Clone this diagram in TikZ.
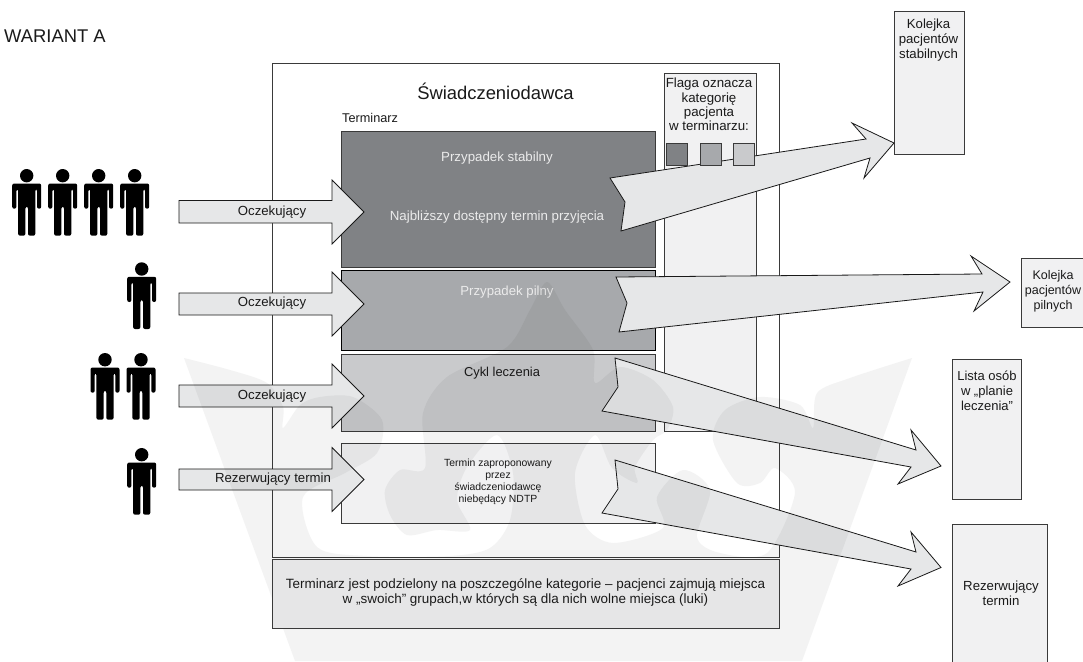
\documentclass[tikz,border=0pt]{standalone}
\usepackage{fontspec}
\setmainfont{Liberation Sans}
\definecolor{edge}{HTML}{3A3A3A}
\definecolor{arrowfill}{HTML}{E6E7E8}
\definecolor{panel}{HTML}{F1F1F2}
\definecolor{rowa}{HTML}{808285}
\definecolor{rowb}{HTML}{A7A9AC}
\definecolor{rowc}{HTML}{C9CACC}
\definecolor{notefill}{HTML}{E6E6E7}
\definecolor{wmark}{HTML}{F3F3F3}
\definecolor{ink}{HTML}{1A1A1A}
\tikzset{
  rect/.style={draw=edge,line width=0.9pt,inner sep=0pt,anchor=north west},
  lbl/.style={inner sep=0pt,align=center,text=ink},
  whitelbl/.style={inner sep=0pt,align=center,text=white!92!black},
  blockarrow/.style={draw=black!90,line width=0.8pt,fill=arrowfill,line join=miter},
  person/.pic={
    \fill[black] (0,0) circle (6.7);
    \fill[black,rounded corners=2pt] (-14.5,33) -- (-14.5,7.8) -- (14.5,7.8) -- (14.5,33) -- (10.3,33) -- (10.3,13.5) -- (8.6,13.5) -- (8.6,60) -- (1.3,60) -- (1.3,31) -- (-1.3,31) -- (-1.3,60) -- (-8.6,60) -- (-8.6,13.5) -- (-10.3,13.5) -- (-10.3,33) -- cycle;
  }
}
\newcommand{\boxat}[7]{\node[rect,fill=#6,minimum width=#4pt,minimum height=#5pt,#7] (#1) at (#2,#3) {};}
\begin{document}
\begin{tikzpicture}[x=1pt,y=-1pt]
\useasboundingbox (0,0) rectangle (1083,661);
\clip (0,0) rectangle (1083,661);
\fill[white] (0,0) rectangle (1083,661);

% main frames
\boxat{provider}{272}{63}{507}{494}{white}{}
\boxat{flagcol}{663.5}{73}{92.5}{358}{panel}{}

% rows
\boxat{rowstable}{341}{131}{314}{136}{rowa}{}
\boxat{rowurgent}{341}{269.5}{314}{80.5}{rowb}{draw=black}
\boxat{rowcycle}{341}{354}{314}{77}{rowc}{}
\boxat{rowbook}{341}{442.5}{314}{80}{panel}{}

% outgoing queues
\boxat{qstable}{894}{11}{70}{143}{panel}{}
\boxat{qurgent}{1021}{258}{80}{69}{panel}{}
\boxat{qplan}{952}{359}{69}{140}{panel}{}
\boxat{qbook}{952}{524}{95}{150}{panel}{}

% outgoing block arrows
\draw[blockarrow] (610,178) -- (866,139) -- (852,123) -- (894,143) -- (864,178) -- (870,158) -- (621,231) -- (625,202) -- cycle;
\draw[blockarrow] (616,277) -- (982,274) -- (971,256) -- (1010,282) -- (974,311) -- (983,292) -- (619,332) -- (627,303) -- cycle;
\draw[blockarrow] (615,358) -- (916,450) -- (911,430) -- (941,466) -- (898,484) -- (911,467) -- (602,411) -- (618,387) -- cycle;
\draw[blockarrow] (615,460) -- (916,552) -- (911,532) -- (941,567.5) -- (898,586) -- (911,569) -- (602,513) -- (618,489) -- cycle;

% flags
\boxat{flaga}{666}{143}{21}{22}{rowa}{}
\boxat{flagb}{699.5}{143}{21}{22}{rowb}{}
\boxat{flagc}{733}{143}{21}{22}{rowc}{}

% incoming block arrows
\draw[blockarrow] (179,200.5) -- (332,200.5) -- (332,180) -- (364,212) -- (332,244) -- (332,223) -- (179,223) -- cycle;
\draw[blockarrow] (179,293) -- (332,293) -- (332,272) -- (364,304) -- (332,336) -- (332,315) -- (179,315) -- cycle;
\draw[blockarrow] (179,385) -- (332,385) -- (332,364) -- (364,396) -- (332,428) -- (332,407) -- (179,407) -- cycle;
\draw[blockarrow] (179,469) -- (332,469) -- (332,447.5) -- (364,479.5) -- (332,511.5) -- (332,490) -- (179,490) -- cycle;

% people
\pic at (26.7,175.7) {person};
\pic at (62.7,175.7) {person};
\pic at (98.7,175.7) {person};
\pic at (134.7,175.7) {person};
\pic at (141.7,269) {person};
\pic at (105,359.7) {person};
\pic at (141,359.7) {person};
\pic at (141.7,454.7) {person};

% labels
\node[lbl,anchor=west,font=\fontsize{18.4}{20}\selectfont] (variant) at (4,36) {WARIANT A};
\node[lbl,font=\fontsize{18.4}{20}\selectfont] (title) at (495.5,91.5) {Świadczeniodawca};
\node[lbl,anchor=west,font=\fontsize{12.7}{14}\selectfont] (termlbl) at (342,118) {Terminarz};
\node[whitelbl,font=\fontsize{13.3}{15}\selectfont] (t1) at (497,158) {Przypadek stabilny};
\node[whitelbl,font=\fontsize{13.3}{15}\selectfont] (t2) at (497,217) {Najbliższy dostępny termin przyjęcia};
\node[whitelbl,font=\fontsize{13.2}{15}\selectfont] (t3) at (507,292) {Przypadek pilny};
\node[lbl,font=\fontsize{12.9}{15}\selectfont] (t4) at (502,373) {Cykl leczenia};
\node[lbl,font=\fontsize{10.4}{12}\selectfont] (t5) at (498,482) {Termin zaproponowany\\przez\\świadczeniodawcę\\niebędący NDTP};
\node[lbl,font=\fontsize{13.3}{14.4}\selectfont] (t7) at (709,104.5) {Flaga oznacza\\kategorię\\pacjenta\\w terminarzu:};
\node[lbl,font=\fontsize{13.2}{15}\selectfont] (t8) at (928.5,40) {Kolejka\\pacjentów\\stabilnych};
\node[lbl,font=\fontsize{12.5}{15}\selectfont] (t9) at (1053,291.5) {Kolejka\\pacjentów\\pilnych};
\node[lbl,font=\fontsize{13}{15}\selectfont] (t10) at (987,391) {Lista osób\\w „planie\\leczenia"};
\node[lbl,font=\fontsize{13.2}{15}\selectfont] (t11) at (1001,593) {Rezerwujący\\termin};
\node[lbl,font=\fontsize{13.2}{14}\selectfont] (a1) at (272,212) {Oczekujący};
\node[lbl,font=\fontsize{13.2}{14}\selectfont] (a2) at (272,303) {Oczekujący};
\node[lbl,font=\fontsize{13.2}{14}\selectfont] (a3) at (272,396) {Oczekujący};
\node[lbl,font=\fontsize{13.2}{14}\selectfont] (a4) at (273,479) {Rezerwujący termin};

% watermark
\fill[wmark,blend mode=multiply] plot[smooth,tension=0.5] coordinates {
 (184,358) (230,370) (267,383) (283,407) (283,428) (300,405) (320,397) (353,397) (382,420) (377,453) (345,473) (303,497)
 (317,547) (367,556) (450,556) (490,548) (510,520) (513,473) (497,435) (467,467) (457,500) (470,530) (437,530) (407,535)
 (390,515) (385,490) (400,470) (425,468) (423,413) (447,377) (507,347) (530,310) (547,282) (565,310) (593,350) (595,383)
 (620,367) (653,380) (673,407) (667,430) (653,440) (635,467) (637,483) (612,468) (595,435) (575,473) (585,525) (613,543)
 (663,528) (657,497) (683,470) (710,490) (697,537) (720,553) (767,553) (795,493) (775,468) (760,483) (737,483) (713,440)
 (725,410) (760,397) (800,405) (813,428) (817,393) (850,378) (912,358) }
 -- (802,661) -- (295,661) -- cycle;

% note panel stays clear of the watermark
\boxat{note}{272}{559}{507}{69}{notefill}{}
\node[lbl,font=\fontsize{13.45}{15}\selectfont] (t6) at (525.5,592.5) {Terminarz jest podzielony na poszczególne kategorie – pacjenci zajmują miejsca\\w „swoich” grupach,w których są dla nich wolne miejsca (luki)};
\end{tikzpicture}
\end{document}
